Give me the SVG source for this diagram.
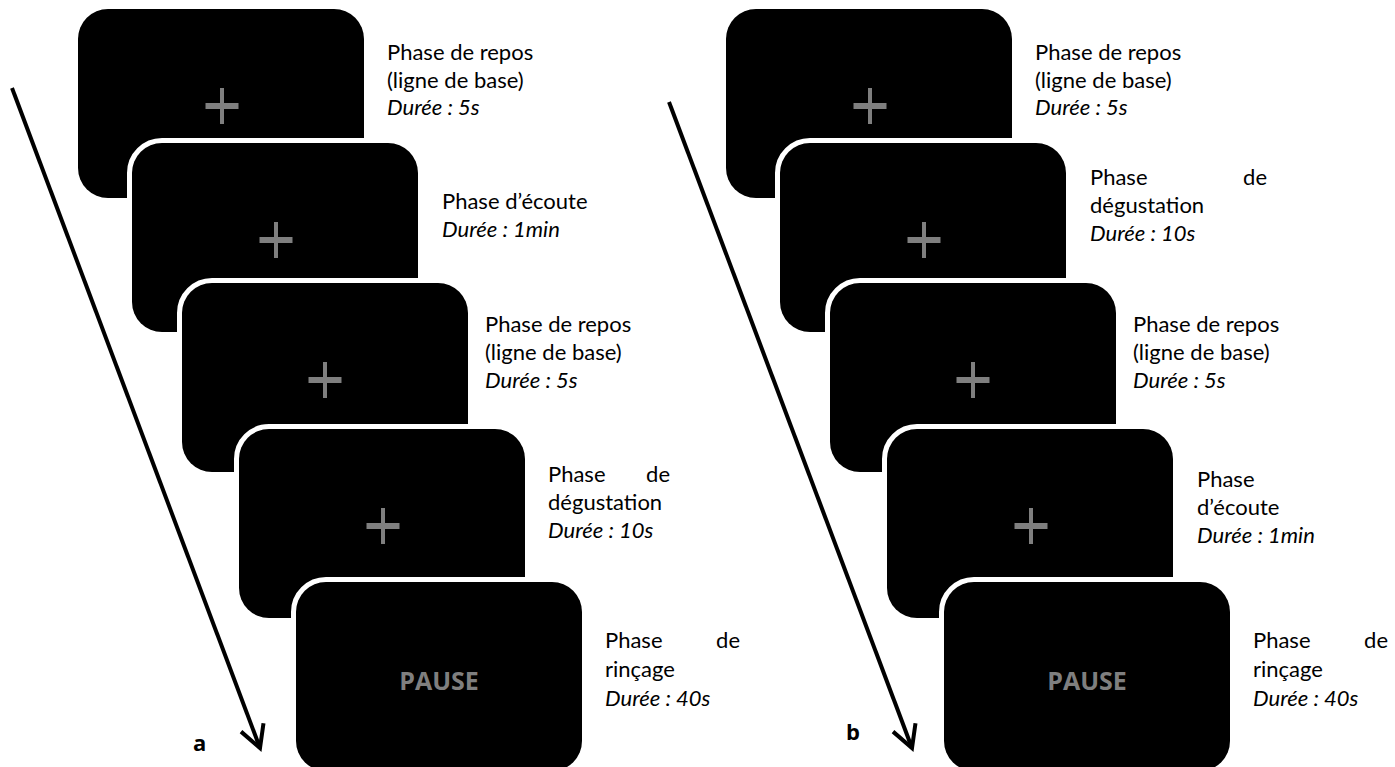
<svg xmlns="http://www.w3.org/2000/svg" width="1395" height="767" viewBox="0 0 1395 767">
<defs>
<style>
.scr{fill:#000;stroke:#fff;stroke-width:10;paint-order:stroke}
.cr{fill:#7f7f7f}
.t{font-family:Lato,"Open Sans",sans-serif;font-size:22px;fill:#000}
.i{font-style:italic}
.pause{font-family:"Open Sans",Lato,sans-serif;font-size:25px;font-weight:bold;fill:#7f7f7f;text-anchor:middle}
.lab{font-family:"Open Sans",Lato,sans-serif;font-size:22px;font-weight:bold;fill:#000}
.arr{stroke:#000;stroke-width:4;fill:none}
</style>
<marker id="head" markerUnits="userSpaceOnUse" markerWidth="40" markerHeight="40" viewBox="-30 -20 40 40" refX="0" refY="0" orient="auto" overflow="visible">
<path d="M-22,-12 L0,0 L-22,12" fill="none" stroke="#000" stroke-width="4" stroke-linejoin="miter"/>
</marker>
<symbol id="cross" overflow="visible"><rect x="-16.5" y="-3" width="33" height="6" class="cr"/><rect x="-2" y="-18" width="4" height="36" class="cr"/></symbol>
</defs>
<rect width="1395" height="767" fill="#fff"/>

<g id="panel-a">
<g id="a1"><rect class="scr" x="78" y="9" width="286" height="189" rx="30"/><use href="#cross" x="222" y="106"/>
<text class="t" x="387" y="60">Phase de repos</text><text class="t" x="387" y="88">(ligne de base)</text><text class="t i" x="387" y="115">Durée : 5s</text></g>
<g id="a2"><rect class="scr" x="132" y="143" width="286" height="189" rx="30"/><use href="#cross" x="276" y="240"/>
<text class="t" x="442" y="209">Phase d’écoute</text><text class="t i" x="442" y="237">Durée : 1min</text></g>
<g id="a3"><rect class="scr" x="182" y="283" width="286" height="189" rx="30"/><use href="#cross" x="325" y="380"/>
<text class="t" x="485" y="332">Phase de repos</text><text class="t" x="485" y="360">(ligne de base)</text><text class="t i" x="485" y="388">Durée : 5s</text></g>
<g id="a4"><rect class="scr" x="239" y="429" width="286" height="189" rx="30"/><use href="#cross" x="383" y="526"/>
<text class="t" x="548" y="482">Phase</text><text class="t" x="670" y="482" text-anchor="end">de</text><text class="t" x="548" y="510">dégustation</text><text class="t i" x="548" y="538">Durée : 10s</text></g>
<g id="a5"><rect class="scr" x="296" y="582" width="286" height="189" rx="30"/><text class="pause" x="439" y="690">PAUSE</text>
<text class="t" x="605" y="648">Phase</text><text class="t" x="740" y="648" text-anchor="end">de</text><text class="t" x="605" y="677">rinçage</text><text class="t i" x="605" y="706">Durée : 40s</text></g>
</g>

<g id="panel-b">
<g id="b1"><rect class="scr" x="726" y="9" width="286" height="189" rx="30"/><use href="#cross" x="870" y="106"/>
<text class="t" x="1035" y="60">Phase de repos</text><text class="t" x="1035" y="88">(ligne de base)</text><text class="t i" x="1035" y="115">Durée : 5s</text></g>
<g id="b2"><rect class="scr" x="780" y="143" width="286" height="189" rx="30"/><use href="#cross" x="924" y="240"/>
<text class="t" x="1090" y="185">Phase</text><text class="t" x="1267" y="185" text-anchor="end">de</text><text class="t" x="1090" y="213">dégustation</text><text class="t i" x="1090" y="241">Durée : 10s</text></g>
<g id="b3"><rect class="scr" x="830" y="283" width="286" height="189" rx="30"/><use href="#cross" x="973" y="380"/>
<text class="t" x="1133" y="332">Phase de repos</text><text class="t" x="1133" y="360">(ligne de base)</text><text class="t i" x="1133" y="388">Durée : 5s</text></g>
<g id="b4"><rect class="scr" x="887" y="429" width="286" height="189" rx="30"/><use href="#cross" x="1031" y="526"/>
<text class="t" x="1197" y="487">Phase</text><text class="t" x="1197" y="515">d’écoute</text><text class="t i" x="1197" y="543">Durée : 1min</text></g>
<g id="b5"><rect class="scr" x="944" y="582" width="286" height="189" rx="30"/><text class="pause" x="1087" y="690">PAUSE</text>
<text class="t" x="1253" y="648">Phase</text><text class="t" x="1388" y="648" text-anchor="end">de</text><text class="t" x="1253" y="677">rinçage</text><text class="t i" x="1253" y="706">Durée : 40s</text></g>
</g>

<g id="connectors">
<line class="arr" x1="12" y1="88" x2="260" y2="748" marker-end="url(#head)"/>
<line class="arr" x1="669" y1="102" x2="912" y2="748" marker-end="url(#head)"/>
</g>
<text class="lab" x="193" y="751">a</text>
<text class="lab" x="846" y="740">b</text>
</svg>
